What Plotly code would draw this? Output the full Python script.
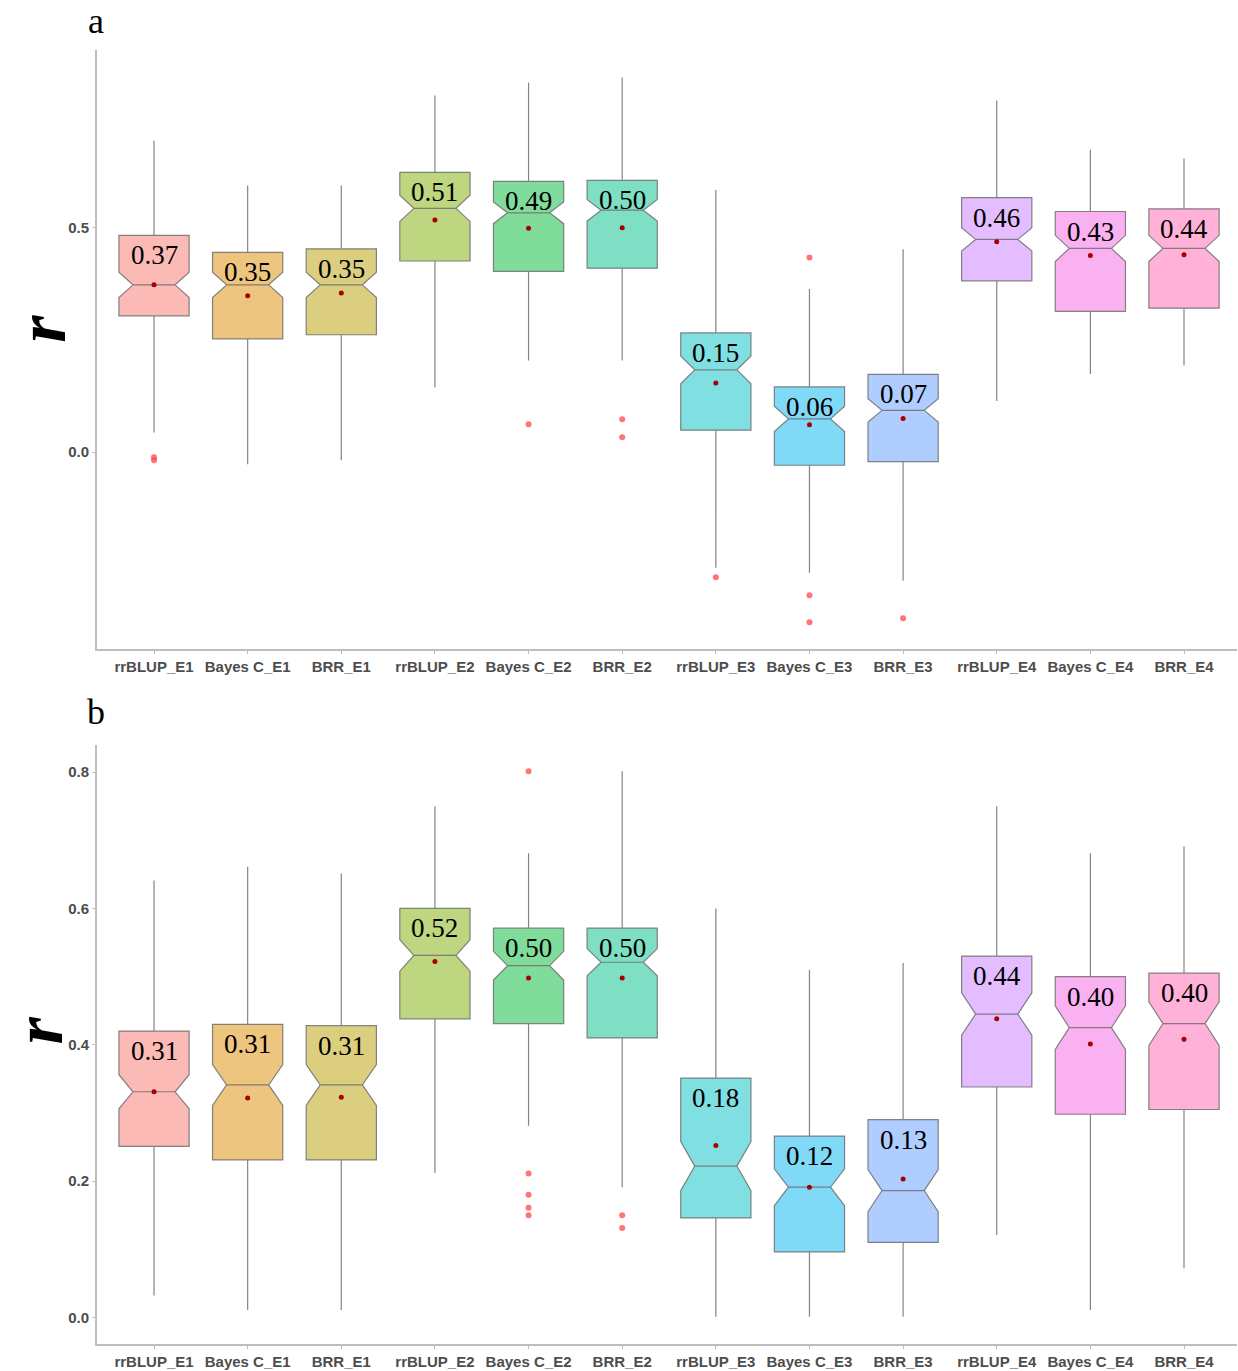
import plotly.graph_objects as go
from plotly.subplots import make_subplots

# Model / environment groups on the x axis
categories = ["rrBLUP_E1", "Bayes C_E1", "BRR_E1",
              "rrBLUP_E2", "Bayes C_E2", "BRR_E2",
              "rrBLUP_E3", "Bayes C_E3", "BRR_E3",
              "rrBLUP_E4", "Bayes C_E4", "BRR_E4"]

# ggplot-style hue palette (drawn at 50% alpha)
hue_colors = ["#F8766D", "#DE8C00", "#B79F00", "#7CAE00", "#00BA38", "#00C08B",
              "#00BFC4", "#00B4F0", "#619CFF", "#C77CFF", "#F564E3", "#FF64B0"]

# ---- panel a: box statistics of r ----
q1_a = [0.303, 0.252, 0.261, 0.425, 0.402, 0.409, 0.049, -0.029, -0.021, 0.381, 0.313, 0.320]
median_a = [0.372, 0.372, 0.372, 0.542, 0.532, 0.538, 0.183, 0.074, 0.093, 0.473, 0.453, 0.453]
q3_a = [0.482, 0.444, 0.452, 0.622, 0.602, 0.604, 0.265, 0.145, 0.173, 0.566, 0.535, 0.541]
lower_a = [0.044, -0.027, -0.018, 0.144, 0.204, 0.204, -0.257, -0.268, -0.286, 0.114, 0.174, 0.193]
upper_a = [0.692, 0.593, 0.593, 0.793, 0.822, 0.833, 0.583, 0.363, 0.451, 0.782, 0.672, 0.653]
mean_a = [0.372, 0.348, 0.354, 0.516, 0.498, 0.499, 0.154, 0.061, 0.075, 0.468, 0.437, 0.439]
notch_a = [0.028, 0.028, 0.028, 0.029, 0.024, 0.024, 0.031, 0.028, 0.026, 0.026, 0.029, 0.029]
labels_a = ["0.37", "0.35", "0.35", "0.51", "0.49", "0.50",
            "0.15", "0.06", "0.07", "0.46", "0.43", "0.44"]
outlier_x_a = ["rrBLUP_E1", "rrBLUP_E1", "Bayes C_E2", "BRR_E2", "BRR_E2",
               "rrBLUP_E3", "Bayes C_E3", "Bayes C_E3", "Bayes C_E3", "BRR_E3"]
outlier_y_a = [-0.011, -0.018, 0.062, 0.073, 0.033, -0.278, 0.433, -0.318, -0.378, -0.369]
yticks_a = [0.0, 0.5]

# ---- panel b: box statistics of r ----
q1_b = [0.251, 0.231, 0.231, 0.438, 0.431, 0.410, 0.146, 0.096, 0.110, 0.338, 0.298, 0.305]
median_b = [0.331, 0.341, 0.341, 0.531, 0.516, 0.521, 0.222, 0.191, 0.186, 0.445, 0.425, 0.431]
q3_b = [0.420, 0.430, 0.428, 0.600, 0.571, 0.571, 0.351, 0.266, 0.290, 0.530, 0.500, 0.505]
lower_b = [0.032, 0.011, 0.011, 0.212, 0.281, 0.191, 0.001, 0.001, 0.001, 0.121, 0.011, 0.072]
upper_b = [0.641, 0.661, 0.651, 0.750, 0.681, 0.801, 0.600, 0.510, 0.520, 0.750, 0.681, 0.691]
mean_b = [0.331, 0.322, 0.323, 0.522, 0.498, 0.498, 0.252, 0.191, 0.203, 0.438, 0.401, 0.408]
notch_b = [0.025, 0.030, 0.030, 0.023, 0.021, 0.020, 0.036, 0.027, 0.031, 0.031, 0.032, 0.032]
labels_b = ["0.31", "0.31", "0.31", "0.52", "0.50", "0.50",
            "0.18", "0.12", "0.13", "0.44", "0.40", "0.40"]
outlier_x_b = ["Bayes C_E2", "Bayes C_E2", "Bayes C_E2", "Bayes C_E2", "Bayes C_E2",
               "BRR_E2", "BRR_E2"]
outlier_y_b = [0.801, 0.211, 0.180, 0.161, 0.150, 0.150, 0.131]
yticks_b = [0.0, 0.2, 0.4, 0.6, 0.8]

# ---- page geometry (pixels) ----
W, H = 1238, 1371
M_L, M_R, M_T, M_B = 97, 1, 50, 21
PLOT_W = W - M_L - M_R
PLOT_H = H - M_T - M_B


def px_x(px):
    return (px - M_L) / PLOT_W


def px_y(py):
    return (H - M_B - py) / PLOT_H


def rgba(hex_color, alpha):
    h = hex_color.lstrip("#")
    r, g, b = int(h[0:2], 16), int(h[2:4], 16), int(h[4:6], 16)
    return f"rgba({r},{g},{b},{alpha})"


fig = make_subplots(rows=2, cols=1, vertical_spacing=0.0)

panels = [
    (1, q1_a, median_a, q3_a, lower_a, upper_a, mean_a, notch_a, labels_a, outlier_x_a, outlier_y_a),
    (2, q1_b, median_b, q3_b, lower_b, upper_b, mean_b, notch_b, labels_b, outlier_x_b, outlier_y_b),
]

for row, q1, med, q3, lo, hi, mn, nt, lab, ox, oy in panels:
    for i, cat in enumerate(categories):
        fig.add_trace(go.Box(
            x=[cat], q1=[q1[i]], median=[med[i]], q3=[q3[i]],
            lowerfence=[lo[i]], upperfence=[hi[i]], notchspan=[nt[i]],
            notched=True, notchwidth=0.2, width=0.75, whiskerwidth=0,
            fillcolor=rgba(hue_colors[i], 0.5),
            line=dict(color="rgba(110,110,110,0.85)", width=1.2),
            boxpoints=False, showlegend=False, hoverinfo="skip",
        ), row=row, col=1)
    # outliers
    fig.add_trace(go.Scatter(
        x=ox, y=oy, mode="markers",
        marker=dict(color="rgba(255,70,70,0.75)", size=6),
        showlegend=False, hoverinfo="skip",
    ), row=row, col=1)
    # means
    fig.add_trace(go.Scatter(
        x=categories, y=mn, mode="markers",
        marker=dict(color="#A80000", size=5),
        showlegend=False, hoverinfo="skip",
    ), row=row, col=1)
    # value labels at the top of each box
    xref = "x" if row == 1 else "x2"
    yref = "y" if row == 1 else "y2"
    for i, cat in enumerate(categories):
        fig.add_annotation(
            x=cat, y=q3[i], xref=xref, yref=yref, text=lab[i],
            showarrow=False, yanchor="top", yshift=-3,
            font=dict(family="Liberation Serif", size=27, color="black"),
        )

axis_line = dict(showline=True, linecolor="#BEBEBE", linewidth=2,
                 ticks="outside", ticklen=3, tickcolor="#BEBEBE",
                 showgrid=False, zeroline=False,
                 tickfont=dict(family="Liberation Sans", size=15, color="#4D4D4D"))

for row in (1, 2):
    fig.update_xaxes(categoryorder="array", categoryarray=categories,
                     tickvals=categories, ticktext=[f"<b>{c}</b>" for c in categories],
                     range=[-0.609, 11.566], row=row, col=1, **axis_line)

fig.update_yaxes(range=[-0.438, 0.894], tickvals=yticks_a,
                 ticktext=[f"<b>{v:.1f}</b>" for v in yticks_a],
                 row=1, col=1, **axis_line)
fig.update_yaxes(range=[-0.039, 0.840], tickvals=yticks_b,
                 ticktext=[f"<b>{v:.1f}</b>" for v in yticks_b],
                 row=2, col=1, **axis_line)

fig.update_layout(
    width=W, height=H,
    margin=dict(l=M_L, r=M_R, t=M_T, b=M_B),
    plot_bgcolor="white", paper_bgcolor="white",
    boxmode="overlay",
    xaxis=dict(domain=[0, 1]),
    yaxis=dict(domain=[px_y(652), 1.0]),
    yaxis2=dict(domain=[0.0, px_y(748)]),
)

# panel letters
for letter, py in (("a", 21), ("b", 715)):
    fig.add_annotation(x=px_x(96), y=px_y(py), xref="paper", yref="paper",
                       text=letter, showarrow=False, xanchor="center", yanchor="middle",
                       font=dict(family="Liberation Serif", size=36, color="black"))

# y-axis titles
for px, py in ((42, 330), (38, 1035)):
    fig.add_annotation(x=px_x(px), y=px_y(py), xref="paper", yref="paper",
                       text="<b><i>r</i></b>", showarrow=False, textangle=-90,
                       xanchor="center", yanchor="middle",
                       font=dict(family="Liberation Serif", size=70, color="black"))

fig.write_html("out.html")
